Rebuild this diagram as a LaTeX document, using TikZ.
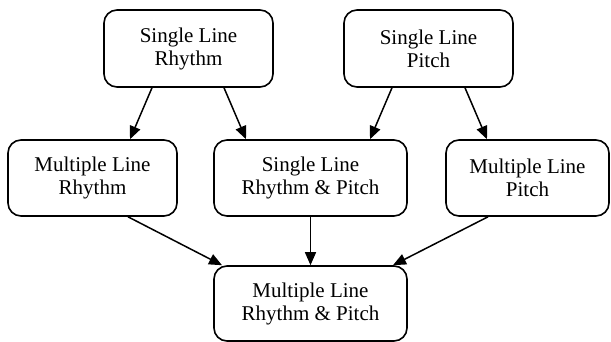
\documentclass[tikz,border=0pt]{standalone}
\usepackage{fontspec}
\setmainfont{Liberation Serif}
\usetikzlibrary{arrows.meta}
\tikzset{
  stage/.style={draw, line width=1.6pt, rounded corners=13pt, align=center,
    inner sep=0pt, font=\fontsize{21pt}{23pt}\selectfont},
  link/.style={line width=1.5pt, -{Triangle[length=13pt,width=11pt]}}
}
\begin{document}
\begin{tikzpicture}[x=1pt,y=-1pt]
\useasboundingbox (0,0) rectangle (611,342);
\node[stage, minimum width=169pt, minimum height=77pt] (slr) at (188.5,48.5) {Single Line\\Rhythm};
\node[stage, minimum width=169pt, minimum height=77pt] (slp) at (428.5,48.5) {Single Line\\Pitch};
\node[stage, minimum width=169pt, minimum height=76pt] (mlr) at (92.5,178) {Multiple Line\\Rhythm};
\node[stage, minimum width=193pt, minimum height=76pt] (slrp) at (310.5,178) {Single Line\\Rhythm \& Pitch};
\node[stage, minimum width=163pt, minimum height=76pt] (mlp) at (527.5,178) {Multiple Line\\Pitch};
\node[stage, minimum width=193pt, minimum height=75pt] (mlrp) at (310.5,303.5) {Multiple Line\\Rhythm \& Pitch};
\draw[link] ([xshift=-36.5pt]slr.south) -- ([xshift=37.5pt]mlr.north);
\draw[link] ([xshift=35.5pt]slr.south) -- ([xshift=-64.5pt]slrp.north);
\draw[link] ([xshift=-36.5pt]slp.south) -- ([xshift=59.5pt]slrp.north);
\draw[link] ([xshift=36.5pt]slp.south) -- ([xshift=-40.5pt]mlp.north);
\draw[link] ([xshift=35.5pt]mlr.south) -- ([xshift=-88.5pt]mlrp.north);
\draw[link] (slrp.south) -- (mlrp.north);
\draw[link] ([xshift=-39.5pt]mlp.south) -- ([xshift=82.5pt]mlrp.north);
\end{tikzpicture}
\end{document}
